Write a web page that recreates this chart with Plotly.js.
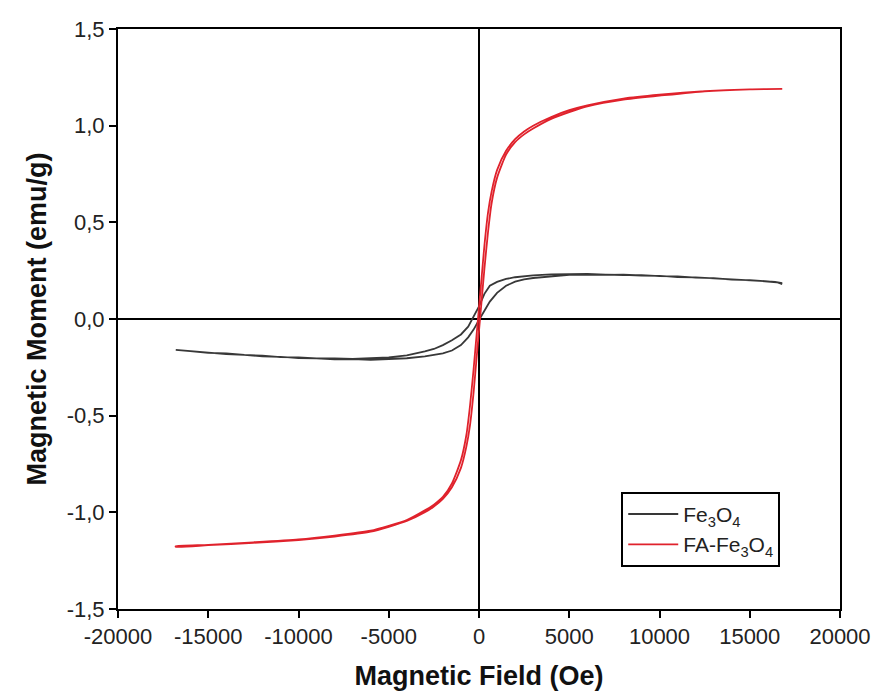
<!DOCTYPE html>
<html>
<head>
<meta charset="utf-8">
<script src="https://cdn.plot.ly/plotly-3.0.1.min.js"></script>
<style>html,body{margin:0;padding:0;background:#fff;}#chart{width:873px;height:692px;}</style>
</head>
<body>
<div id="chart"></div>
<script>
// Fe3O4 loop: descending branch (from +H to -H) and ascending branch
var feDescH = [16800, 16400, 16000, 15000, 14000, 13000, 12000, 11000, 10000, 9000, 8000, 7000, 6000, 5000, 4000, 3000, 2500, 2000, 1500, 1000, 600, 300, 0, -300, -600, -1000, -1500, -2000, -2500, -3000, -4000, -5000, -6000, -7000, -8000, -9000, -10000, -11000, -12000, -13000, -14000, -15000, -16000, -16800];
var feDescM = [0.185, 0.192, 0.195, 0.2, 0.206, 0.209, 0.215, 0.217, 0.223, 0.225, 0.229, 0.228, 0.233, 0.232, 0.231, 0.226, 0.222, 0.216, 0.207, 0.192, 0.172, 0.13, 0.065, 0.01, -0.04, -0.08, -0.11, -0.135, -0.155, -0.168, -0.188, -0.199, -0.202, -0.207, -0.204, -0.204, -0.199, -0.197, -0.19, -0.186, -0.178, -0.175, -0.166, -0.16];
var feAscH = [-16800, -16000, -15000, -14000, -13000, -12000, -11000, -10000, -9000, -8000, -7000, -6000, -5000, -4000, -3000, -2500, -2000, -1500, -1000, -600, -300, 0, 300, 600, 1000, 1500, 2000, 2500, 3000, 4000, 5000, 6000, 7000, 8000, 9000, 10000, 11000, 12000, 13000, 14000, 15000, 16000, 16500, 16800];
var feAscM = [-0.162, -0.169, -0.174, -0.182, -0.186, -0.193, -0.196, -0.202, -0.204, -0.209, -0.208, -0.211, -0.207, -0.203, -0.193, -0.187, -0.178, -0.163, -0.135, -0.095, -0.055, -0.005, 0.045, 0.09, 0.135, 0.172, 0.193, 0.205, 0.212, 0.221, 0.228, 0.228, 0.23, 0.227, 0.227, 0.222, 0.22, 0.214, 0.211, 0.204, 0.201, 0.194, 0.19, 0.18];

// FA-Fe3O4 loop
var faDescH = [16800, 15000, 12500, 10000, 8000, 6000, 5000, 4000, 3000, 2500, 2000, 1500, 1000, 700, 500, 300, 150, 0, -150, -300, -500, -700, -1000, -1500, -2000, -2500, -3000, -4000, -5000, -6000, -8000, -10000, -12500, -15000, -16800];
var faDescM = [1.19, 1.188, 1.178, 1.16, 1.14, 1.105, 1.08, 1.045, 1.0, 0.97, 0.93, 0.87, 0.77, 0.66, 0.55, 0.38, 0.22, 0.06, -0.1, -0.26, -0.45, -0.6, -0.73, -0.85, -0.92, -0.96, -0.99, -1.04, -1.07, -1.095, -1.12, -1.14, -1.155, -1.168, -1.175];
var faAscH = [-16800, -15000, -12500, -10000, -8000, -6000, -5000, -4000, -3000, -2500, -2000, -1500, -1000, -700, -500, -300, -150, 0, 150, 300, 500, 700, 1000, 1500, 2000, 2500, 3000, 4000, 5000, 6000, 8000, 10000, 12500, 15000, 16800];
var faAscM = [-1.178, -1.17, -1.158, -1.143, -1.125, -1.1, -1.075, -1.045, -1.0, -0.97, -0.93, -0.87, -0.77, -0.66, -0.55, -0.38, -0.22, -0.06, 0.1, 0.26, 0.45, 0.6, 0.73, 0.85, 0.915, 0.955, 0.985, 1.035, 1.07, 1.1, 1.135, 1.155, 1.178, 1.188, 1.19];

var xTickVals = [-20000, -15000, -10000, -5000, 0, 5000, 10000, 15000, 20000];
var xTickText = ["-20000", "-15000", "-10000", "-5000", "0", "5000", "10000", "15000", "20000"];
var yTickVals = [-1.5, -1.0, -0.5, 0, 0.5, 1.0, 1.5];
var yTickText = ["-1,5", "-1,0", "-0,5", "0,0", "0,5", "1,0", "1,5"];

var grayColor = '#383838';
var redColor = '#e0222c';

var traces = [
  {x: feDescH.concat(feAscH), y: feDescM.concat(feAscM), type: 'scatter', mode: 'lines',
   name: 'Fe<sub>3</sub>O<sub>4</sub>', line: {color: grayColor, width: 1.8}},
  {x: faDescH.concat(faAscH), y: faDescM.concat(faAscM), type: 'scatter', mode: 'lines',
   name: 'FA-Fe<sub>3</sub>O<sub>4</sub>', line: {color: redColor, width: 1.8, shape: 'spline', smoothing: 0.6}}
];

var axisFont = {family: 'Liberation Sans, Arial, sans-serif', size: 22, color: '#222'};
var titleFont = {family: 'Liberation Sans, Arial, sans-serif', size: 27, color: '#111', weight: 'bold'};

var layout = {
  width: 873, height: 692,
  margin: {l: 118, r: 33, t: 29, b: 83},
  paper_bgcolor: '#fff', plot_bgcolor: '#fff',
  showlegend: true,
  xaxis: {
    range: [-20000, 20000], tickmode: 'array', tickvals: xTickVals, ticktext: xTickText,
    showgrid: false, showline: true, mirror: true, linecolor: '#000', linewidth: 2,
    ticks: 'outside', ticklen: 7, tickwidth: 2, tickcolor: '#000',
    zeroline: false,
    tickfont: axisFont,
    title: {text: '<b>Magnetic Field (Oe)</b>', font: titleFont, standoff: 18}
  },
  yaxis: {
    range: [-1.5, 1.5], tickmode: 'array', tickvals: yTickVals, ticktext: yTickText,
    showgrid: false, showline: true, mirror: true, linecolor: '#000', linewidth: 2,
    ticks: 'outside', ticklen: 7, tickwidth: 2, tickcolor: '#000',
    zeroline: false,
    tickfont: axisFont,
    title: {text: '<b>Magnetic Moment (emu/g)</b>', font: titleFont, standoff: 12}
  },
  shapes: [
    {type: 'line', layer: 'below', xref: 'x', yref: 'paper', x0: 0, x1: 0, y0: 0, y1: 1, line: {color: '#000', width: 2}},
    {type: 'line', layer: 'below', xref: 'paper', yref: 'y', x0: 0, x1: 1, y0: 0, y1: 0, line: {color: '#000', width: 2}}
  ],
  legend: {
    x: 0.697, y: 0.202, xanchor: 'left', yanchor: 'top',
    bordercolor: '#000', borderwidth: 2, bgcolor: '#fff',
    font: {family: 'Liberation Sans, Arial, sans-serif', size: 21, color: '#222'},
    itemwidth: 50, tracegroupgap: 0
  }
};

Plotly.newPlot('chart', traces, layout, {displayModeBar: false, staticPlot: true});
</script>
</body>
</html>
